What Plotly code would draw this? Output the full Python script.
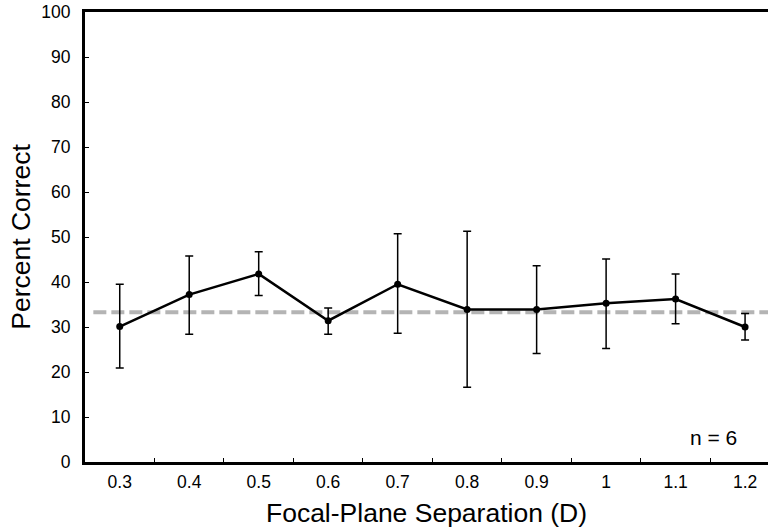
import plotly.graph_objects as go

categories = ["0.3", "0.4", "0.5", "0.6", "0.7", "0.8", "0.9", "1", "1.1", "1.2"]
percent_correct = [30.1, 37.2, 41.8, 31.4, 39.5, 33.9, 33.9, 35.3, 36.2, 30.0]
err_upper = [39.5, 45.8, 46.7, 34.2, 50.7, 51.3, 43.6, 45.1, 41.8, 33.0]
err_lower = [20.9, 28.4, 37.0, 28.4, 28.6, 16.6, 24.1, 25.2, 30.7, 27.1]
chance_level = 33.3
n_label = "n = 6"

plus = [u - v for u, v in zip(err_upper, percent_correct)]
minus = [v - l for v, l in zip(percent_correct, err_lower)]

FONT = "Liberation Sans, Arial, Helvetica, sans-serif"

fig = go.Figure()
fig.add_trace(go.Scatter(
    x=categories, y=percent_correct, mode="lines+markers",
    line=dict(color="black", width=2.5),
    marker=dict(color="black", size=7),
    error_y=dict(type="data", array=plus, arrayminus=minus, symmetric=False,
                 color="black", thickness=1.5, width=4),
    showlegend=False, cliponaxis=False,
))

fig.add_shape(type="line", xref="x", yref="y", x0=-0.38, x1=10, y0=chance_level, y1=chance_level,
              line=dict(color="#b4b4b4", width=4, dash="13px,5px"), layer="below")

fig.add_annotation(x=9, y=5.5, xref="x", yref="y", text=n_label, showarrow=False,
                   xanchor="right", font=dict(family=FONT, size=21, color="black"), xshift=-6)

fig.update_layout(
    width=768, height=530,
    margin=dict(l=85, r=0, t=12, b=68),
    plot_bgcolor="white", paper_bgcolor="white",
    font=dict(family=FONT, color="black"),
    xaxis=dict(
        type="category", range=[-0.5, 9.33], automargin=False,
        showline=True, linecolor="black", linewidth=3, mirror=True,
        ticks="inside", ticklen=4, tickwidth=1, tickcolor="black", tickson="boundaries",
        showgrid=False, zeroline=False,
        tickfont=dict(size=17.5, family=FONT), ticklabelstandoff=2,
        title=dict(text="Focal-Plane Separation (D)", font=dict(size=26.5, family=FONT), standoff=13),
    ),
    yaxis=dict(
        range=[0, 100], dtick=10, tick0=0, automargin=False,
        showline=True, linecolor="black", linewidth=3,
        ticks="inside", ticklen=4, tickwidth=1, tickcolor="black",
        showgrid=False, zeroline=False,
        tickfont=dict(size=17.5, family=FONT), ticklabelstandoff=8,
        title=dict(text="Percent Correct", font=dict(size=26.5, family=FONT), standoff=4),
    ),
)

fig.write_html("out.html", config={"displayModeBar": False},
               post_script="document.body.style.margin='0px';")
